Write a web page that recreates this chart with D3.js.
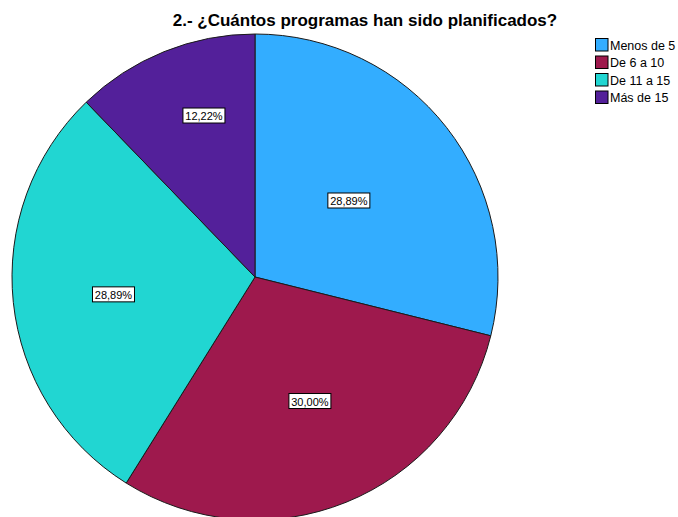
<!DOCTYPE html>
<html>
<head>
<meta charset="utf-8">
<script src="https://cdn.jsdelivr.net/npm/d3@7/dist/d3.min.js"></script>
<style>
  html, body { margin: 0; padding: 0; background: #fff; }
  svg { display: block; }
</style>
</head>
<body>
<svg id="chart" width="678" height="517"></svg>
<script>
// Survey answers for question 2
const categories = ["Menos de 5", "De 6 a 10", "De 11 a 15", "Más de 15"];
const percentages = [28.89, 30.00, 28.89, 12.22];
const colors = ["#33ADFF", "#9E194D", "#21D6D2", "#53209A"];
const title = "2.- ¿Cuántos programas han sido planificados?";

// label placement per slice: distance as share of the radius, and a small
// angular nudge (degrees) away from the slice bisector
const labelRadiusShare = [0.497, 0.56, 0.587, 0.695];
const labelAngleNudge = [-1, -1.8, -1.2, 4.4];

const W = 678, H = 517;
const cx = 255, cy = 277, R = 243;

const svg = d3.select("#chart");

svg.append("text")
  .attr("x", 365).attr("y", 26)
  .attr("text-anchor", "middle")
  .style("font-family", "Liberation Sans, Arial, sans-serif")
  .style("font-weight", "bold")
  .style("font-size", "17px")
  .text(title);

const pie = d3.pie().sort(null).value(d => d)
  .startAngle(0).endAngle(2 * Math.PI);
const arcs = pie(percentages);

const arc = d3.arc().innerRadius(0).outerRadius(R);

const g = svg.append("g").attr("transform", `translate(${cx},${cy})`);

g.selectAll("path.slice")
  .data(arcs)
  .join("path")
  .attr("class", "slice")
  .attr("d", arc)
  .attr("fill", (d, i) => colors[i])
  .attr("stroke", "#1a1a1a")
  .attr("stroke-width", 1)
  .attr("stroke-linejoin", "round");

const fmt = v => d3.format(".2f")(v).replace(".", ",") + "%";

const labels = g.selectAll("g.lab")
  .data(arcs)
  .join("g")
  .attr("class", "lab")
  .attr("transform", (d, i) => {
    const r = R * labelRadiusShare[i];
    const a = (d.startAngle + d.endAngle) / 2 + labelAngleNudge[i] * Math.PI / 180;
    return `translate(${r * Math.sin(a)},${-r * Math.cos(a)})`;
  });

labels.append("rect")
  .attr("x", -21).attr("y", -8)
  .attr("width", 42).attr("height", 15)
  .attr("fill", "#fff")
  .attr("stroke", "#000")
  .attr("stroke-width", 1);

labels.append("text")
  .attr("text-anchor", "middle")
  .attr("y", 4)
  .style("font-family", "Liberation Sans, Arial, sans-serif")
  .style("font-size", "11px")
  .attr("fill", "#000")
  .text(d => fmt(d.data));

// legend
const legend = svg.append("g").attr("transform", "translate(595,38)");
const items = legend.selectAll("g")
  .data(categories)
  .join("g")
  .attr("transform", (d, i) => `translate(0,${i * 17.5})`);

items.append("rect")
  .attr("x", 0.5).attr("y", 0.5)
  .attr("width", 12.5).attr("height", 12.5)
  .attr("fill", (d, i) => colors[i])
  .attr("stroke", "#000")
  .attr("stroke-width", 1);

items.append("text")
  .attr("x", 15).attr("y", 11.5)
  .style("font-family", "Liberation Sans, Arial, sans-serif")
  .style("font-size", "12.5px")
  .attr("fill", "#000")
  .text(d => d);
</script>
</body>
</html>
